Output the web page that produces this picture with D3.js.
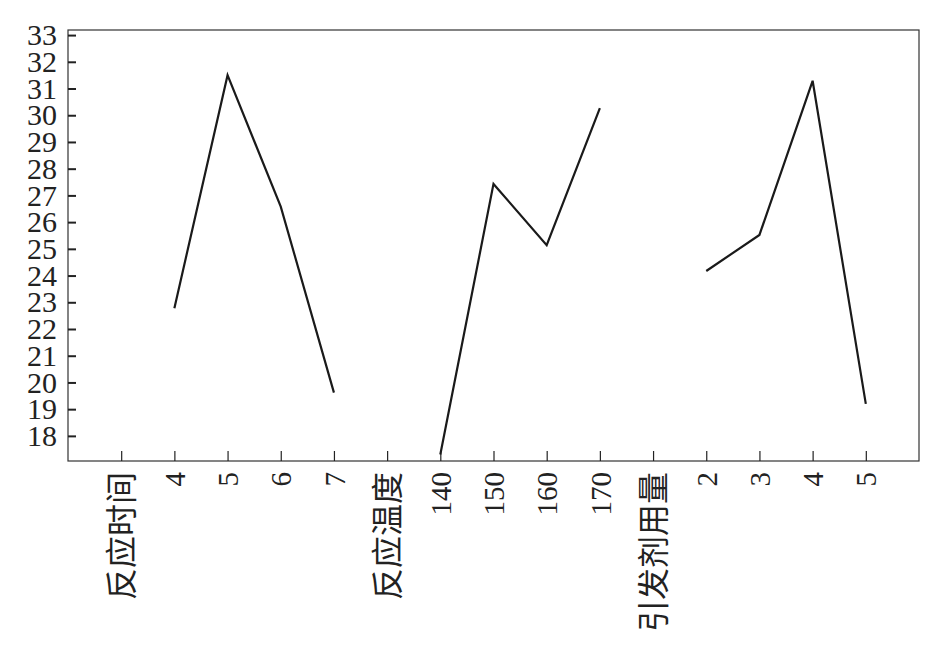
<!DOCTYPE html>
<html><head><meta charset="utf-8">
<script src="https://cdn.jsdelivr.net/npm/d3@7"></script>
<style>body{margin:0;background:#fff} text{font-family:"Liberation Serif","DejaVu Serif","Noto Sans CJK SC",serif}</style>
</head><body>
<svg id="c" width="945" height="661"></svg>
<script>
const categories = ["反应时间","4","5","6","7","反应温度","140","150","160","170","引发剂用量","2","3","4","5"];
const groupTime = [22.78, 31.5, 26.58, 19.62];
const groupTemp = [17.3, 27.43, 25.14, 30.27];
const groupInit = [24.17, 25.52, 31.29, 19.2];
const yTicks = [18,19,20,21,22,23,24,25,26,27,28,29,30,31,32,33];

const svg = d3.select("#c");
const L = 68, R = 919, T = 30, B = 461;
const keys = categories.map((c,i)=>i);
const x = d3.scalePoint().domain(keys).range([L,R]).padding(1);
const y = d3.scaleLinear().domain([17.06,33.19]).range([B,T]);

svg.append("rect").attr("x",L).attr("y",T).attr("width",R-L).attr("height",B-T)
  .attr("fill","none").attr("stroke","#333").attr("stroke-width",1.2);

const serif = '"Liberation Serif","DejaVu Serif","Noto Sans CJK SC",serif';

// y axis
const ya = svg.append("g").attr("transform",`translate(${L},0)`)
  .call(d3.axisLeft(y).tickValues(yTicks).tickSize(-8).tickPadding(11).tickFormat(d3.format("d")));
ya.attr("font-family",null).attr("font-size",null);
ya.select(".domain").remove();
ya.selectAll(".tick line").attr("stroke","#222").attr("stroke-width",2);
ya.selectAll(".tick text").style("font-family",serif).style("font-size","30px").attr("fill","#222");

// x axis
const xa = svg.append("g").attr("transform",`translate(0,${B})`)
  .call(d3.axisBottom(x).tickSize(-10).tickFormat(i=>categories[i]));
xa.attr("font-family",null).attr("font-size",null);
xa.select(".domain").remove();
xa.selectAll(".tick line").attr("stroke","#222").attr("stroke-width",1.2);
xa.selectAll(".tick text")
  .style("font-family",serif)
  .style("font-size",i=>/[^\x00-\x7f]/.test(categories[i])?"32px":"29px")
  .attr("fill","#222")
  .attr("transform","rotate(-90)")
  .attr("text-anchor","end")
  .attr("x",-11).attr("y",0).attr("dy","0.35em");

// series
function seriesPoints(startIdx, vals){ return vals.map((v,k)=>({i:startIdx+k, v})); }
const groups = [seriesPoints(1,groupTime), seriesPoints(6,groupTemp), seriesPoints(11,groupInit)];
const line = d3.line().x(d=>x(d.i)).y(d=>y(d.v));
svg.selectAll("path.s").data(groups).join("path").attr("class","s")
  .attr("d",line).attr("fill","none").attr("stroke","#1a1a1a").attr("stroke-width",2.2)
  .attr("stroke-linejoin","miter");
</script>
</body></html>
